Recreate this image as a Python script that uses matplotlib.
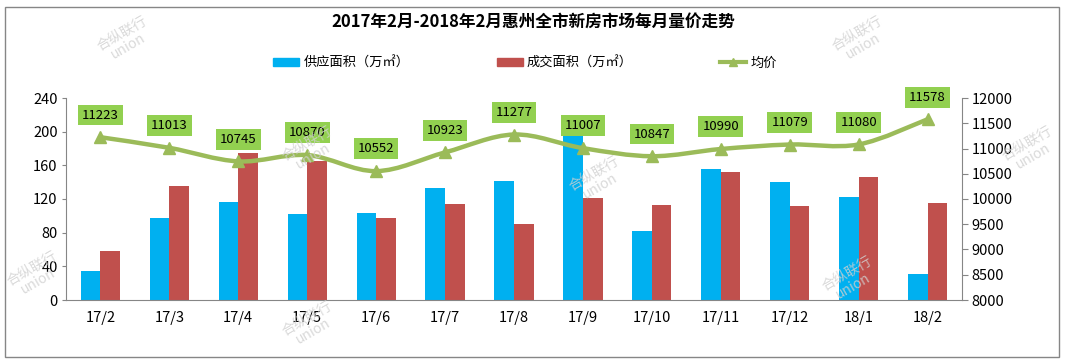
import numpy as np
import matplotlib
matplotlib.use("Agg")
import matplotlib.pyplot as plt
from matplotlib.path import Path
from matplotlib.patches import PathPatch, Rectangle
from matplotlib.lines import Line2D

plt.rcParams['font.family'] = ['Noto Sans CJK SC', 'DejaVu Sans']

# data
months = ["17/2", "17/3", "17/4", "17/5", "17/6", "17/7", "17/8",
          "17/9", "17/10", "17/11", "17/12", "18/1", "18/2"]
supply_area = [35, 98, 116, 102, 103, 133, 141, 195, 82, 156, 140, 122, 31]
deal_area = [58, 135, 175, 165, 98, 114, 90, 121, 113, 152, 112, 146, 115]
avg_price = [11223, 11013, 10745, 10870, 10552, 10923, 11277,
             11007, 10847, 10990, 11079, 11080, 11578]

title = "2017年2月-2018年2月惠州全市新房市场每月量价走势"
supply_label = "供应面积（万㎡）"
deal_label = "成交面积（万㎡）"
price_label = "均价"

BLUE = "#00B0F0"
RED = "#C0504D"
GREEN = "#9BBB59"
LABEL_GREEN = "#92D050"
AXIS_GRAY = "#868686"


def smooth_path(xs, ys, tension=1 / 6):
    """Excel-like smoothed line: Catmull-Rom segments as cubic Beziers."""
    pts = np.column_stack([xs, ys]).astype(float)
    verts = [pts[0]]
    codes = [Path.MOVETO]
    n = len(pts)
    for i in range(n - 1):
        p0 = pts[i - 1] if i > 0 else pts[i]
        p1 = pts[i]
        p2 = pts[i + 1]
        p3 = pts[i + 2] if i + 2 < n else pts[i + 1]
        c1 = p1 + (p2 - p0) * tension
        c2 = p2 - (p3 - p1) * tension
        verts += [c1, c2, p2]
        codes += [Path.CURVE4] * 3
    return Path(verts, codes)


fig = plt.figure(figsize=(10.67, 3.64), dpi=100)
W, H = 1067, 364

# chart border
fig.patches.append(Rectangle((5 / W, 1 - 357 / H), 1054 / W, 350 / H,
                             transform=fig.transFigure, fill=False,
                             edgecolor=AXIS_GRAY, linewidth=1))

# watermarks
for wx, wy in [(125, 40), (860, 40), (310, 150), (597, 180), (35, 275),
               (310, 325), (850, 280), (1030, 150)]:
    fig.text(wx / W, 1 - wy / H, "合纵联行\nunion", rotation=30,
             ha="center", va="center", color="#d0d0d0", fontsize=10,
             linespacing=1.0, alpha=0.8, zorder=0)

ax = fig.add_axes([66 / W, 1 - 300 / H, 896 / W, 202 / H])
ax2 = ax.twinx()

x = np.arange(len(months))
bw = 0.285
ax.bar(x - bw / 2, supply_area, width=bw, color=BLUE, zorder=2)
ax.bar(x + bw / 2, deal_area, width=bw, color=RED, zorder=2)

ax.set_xlim(-0.5, len(months) - 0.5)
ax.set_ylim(0, 240)
ax.set_yticks(np.arange(0, 241, 40))
ax.set_xticks(x)
ax.set_xticklabels(months)
ax.tick_params(axis="x", length=0, pad=8, labelsize=10.5)
ax.tick_params(axis="y", length=3, width=0.8, color=AXIS_GRAY, labelsize=10.5, pad=3)
for s in ["top", "right"]:
    ax.spines[s].set_visible(False)
ax.spines["left"].set_color(AXIS_GRAY)
ax.spines["bottom"].set_color(AXIS_GRAY)

ax2.set_ylim(8000, 12000)
ax2.set_yticks(np.arange(8000, 12001, 500))
ax2.tick_params(axis="y", length=4, width=0.8, color=AXIS_GRAY, labelsize=10.5, pad=3)
for s in ["top", "left", "bottom"]:
    ax2.spines[s].set_visible(False)
ax2.spines["right"].set_color(AXIS_GRAY)

ax2.add_patch(PathPatch(smooth_path(x, avg_price), fill=False,
                        edgecolor=GREEN, linewidth=3.2, capstyle="round",
                        zorder=3))
ax2.plot(x, avg_price, linestyle="none", marker="^", markersize=8,
         color=GREEN, markerfacecolor="#9BBB59", zorder=4)

for xi, p in zip(x, avg_price):
    ax2.annotate(f"{p}", (xi, p), xytext=(0, 16), textcoords="offset points",
                 ha="center", va="center", fontsize=9.5, color="black",
                 bbox=dict(boxstyle="square,pad=0.3", fc=LABEL_GREEN,
                           ec="none"), zorder=5)

fig.text(0.5, 1 - 22 / H, title, ha="center", va="center",
         fontsize=12, fontweight="bold")

# legend, laid out by hand like the original
handles = [Rectangle((0, 0), 1, 1, color=BLUE),
           Rectangle((0, 0), 1, 1, color=RED),
           Line2D([], [], color=GREEN, linewidth=3, marker="^",
                  markersize=6)]
fig.legend(handles, [supply_label, deal_label, price_label], ncol=3,
           loc="center", bbox_to_anchor=(0.492, 1 - 63 / H), frameon=False,
           fontsize=9.5, handlelength=2.0, handleheight=0.6,
           columnspacing=6.6, handletextpad=0.3)

fig.savefig("out.png", dpi=100)
